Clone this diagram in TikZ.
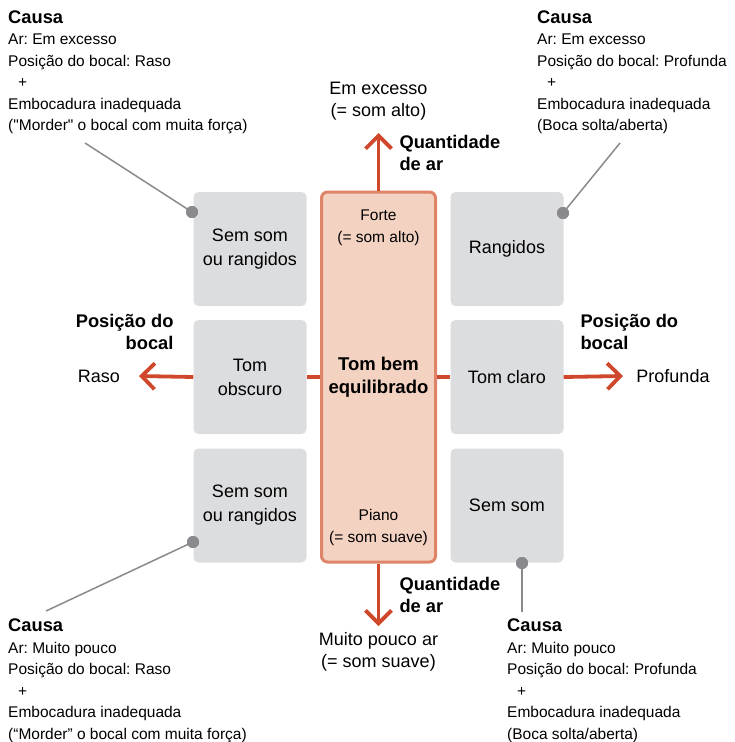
\documentclass[tikz,border=0pt]{standalone}
\usepackage{fontspec}
\setmainfont{Liberation Sans}[Ligatures=TeXOff]
\usepackage{xcolor}
\usepackage{tikz}
\usetikzlibrary{arrows.meta, positioning}
\frenchspacing

\definecolor{arrred}{RGB}{208,72,44}
\definecolor{corefill}{RGB}{243,210,194}
\definecolor{coreline}{RGB}{222,132,104}
\definecolor{boxgray}{RGB}{220,221,223}
\definecolor{leadgray}{RGB}{138,138,142}

\begin{document}
\begin{tikzpicture}[
  x=1pt, y=-1pt,
  cell/.style={fill=boxgray, rounded corners=5pt, minimum width=113pt, minimum height=114pt, inner sep=0pt, align=center, font=\fontsize{18}{24}\selectfont},
  core/.style={fill=corefill, draw=coreline, line width=3pt, rounded corners=6pt, minimum width=114pt, minimum height=370pt, inner sep=0pt, align=center, font=\fontsize{18.5}{23}\selectfont\bfseries},
  softtxt/.style={align=center, font=\fontsize{15.5}{22}\selectfont},
  endtxt/.style={align=center, font=\fontsize{18}{22}\selectfont},
  dirlabel/.style={font=\fontsize{18.3}{22.5}\selectfont\bfseries},
  cause/.style={anchor=north west, inner sep=0pt, align=left, font=\fontsize{15.5}{21.5}\selectfont},
  knob/.style={circle, fill=leadgray, minimum size=12pt, inner sep=0pt},
  lead/.style={draw=leadgray, line width=1.5pt},
  arr/.style={draw=arrred, line width=3.8pt, -{Straight Barb[length=13pt, width=26pt]}},
  seg/.style={draw=arrred, line width=3.8pt},
]
  \useasboundingbox (0,0) rectangle (735,742);

  % Grid of outcomes
  \node[cell] (b1) at (250,249) {Sem som\\ou rangidos};
  \node[cell] (b2) at (507,249) {Rangidos};
  \node[cell] (b3) at (250,377) {Tom\\obscuro};
  \node[cell] (b4) at (507,377) {Tom claro};
  \node[cell] (b5) at (250,505.5) {Sem som\\ou rangidos};
  \node[cell] (b6) at (507,505.5) {Sem som};

  % Centre column
  \node[core] (ctr) at (378.5,377) {Tom bem\\equilibrado};
  \node[softtxt, below=16pt of ctr.north] (forte) {Forte\\(= som alto)};
  \node[softtxt, above=14pt of ctr.south] (piano) {Piano\\(= som suave)};

  % Axes
  \coordinate (upend) at (378.5,133);
  \coordinate (dnend) at (378.5,626);
  \coordinate (lfend) at (139,376);
  \coordinate (rtend) at (623,376);
  \draw[arr] (ctr.north) -- (upend);
  \draw[arr] (ctr.south) -- (dnend);
  \draw[arr] (b3.west) -- (lfend);
  \draw[arr] (b4.east) -- (rtend);
  \draw[seg] (b3.east) -- (ctr.west);
  \draw[seg] (ctr.east) -- (b4.west);

  \node[endtxt] (hi) at (378.5,101) {Em excesso\\(= som alto)};
  \node[endtxt] (lo) at (378.5,652) {Muito pouco ar\\(= som suave)};
  \node[endtxt] (raso) at (99,376) {Raso};
  \node[endtxt] (fundo) at (673,376) {Profunda};

  \node[dirlabel, align=left, anchor=west] (qa1) at (396,153) {Quantidade\\de ar};
  \node[dirlabel, align=left, anchor=west] (qa2) at (396,595) {Quantidade\\de ar};
  \node[dirlabel, align=right, anchor=east] (pb1) at (177,332) {Posição do\\bocal};
  \node[dirlabel, align=left, anchor=west] (pb2) at (577,332) {Posição do\\bocal};

  % Causes
  \node[cause] (c1) at (8,10.5) {{\fontsize{18.3}{21.5}\selectfont\bfseries Causa}\\Ar: Em excesso\\Posição do bocal: Raso\\\hspace*{10pt}+\\Embocadura inadequada\\("Morder" o bocal com muita força)};
  \node[cause] (c2) at (537,10.5) {{\fontsize{18.3}{21.5}\selectfont\bfseries Causa}\\Ar: Em excesso\\Posição do bocal: Profunda\\\hspace*{10pt}+\\Embocadura inadequada\\(Boca solta/aberta)};
  \node[cause] (c3) at (8,619) {{\fontsize{18.3}{21.5}\selectfont\bfseries Causa}\\Ar: Muito pouco\\Posição do bocal: Raso\\\hspace*{10pt}+\\Embocadura inadequada\\(“Morder” o bocal com muita força)};
  \node[cause] (c4) at (507,619) {{\fontsize{18.3}{21.5}\selectfont\bfseries Causa}\\Ar: Muito pouco\\Posição do bocal: Profunda\\\hspace*{10pt}+\\Embocadura inadequada\\(Boca solta/aberta)};

  \coordinate (l1) at (85,143);
  \coordinate (l2) at (620,143);
  \coordinate (l3) at (46,611);
  \coordinate (l4) at (522,612);
  \node[knob] (k1) at (192,212) {};
  \node[knob] (k2) at (563,213) {};
  \node[knob] (k3) at (193,542) {};
  \node[knob] (k4) at (522,563) {};
  \draw[lead] (l1) -- (k1.center);
  \draw[lead] (l2) -- (k2.center);
  \draw[lead] (l3) -- (k3.center);
  \draw[lead] (l4) -- (k4.center);
  \node[knob] at (k1) {};
  \node[knob] at (k2) {};
  \node[knob] at (k3) {};
  \node[knob] at (k4) {};
\end{tikzpicture}
\end{document}
